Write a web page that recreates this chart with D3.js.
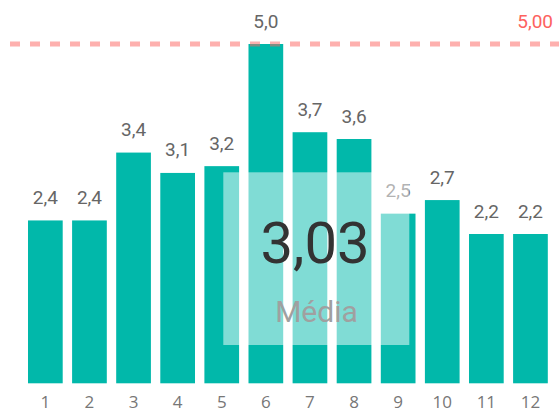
<!DOCTYPE html>
<html><head><meta charset="utf-8">
<script src="https://cdn.jsdelivr.net/npm/d3@7"></script>
<style>html,body{margin:0;padding:0;background:#fff;overflow:hidden}</style>
</head><body>
<svg id="c" width="559" height="413"></svg>
<script>
const categories = ["1","2","3","4","5","6","7","8","9","10","11","12"];
const values = [2.4, 2.4, 3.4, 3.1, 3.2, 5.0, 3.7, 3.6, 2.5, 2.7, 2.2, 2.2];
const target = 5.0;
const cardLabel = "Média";

const fmt1 = d => d3.format(".1f")(d).replace(".", ",");
const fmt2 = d => d3.format(".2f")(d).replace(".", ",");
const mean = d3.mean(values);

const svg = d3.select("#c");
const x = d3.scaleBand().domain(categories).range([23.3, 552.5]).paddingInner(0.213).paddingOuter(0.1065);
const y = d3.scaleLinear().domain([0, 5]).range([383.3, 44]);

svg.append("g").selectAll("rect").data(values).join("rect")
  .attr("x", (d, i) => x(categories[i]))
  .attr("y", d => y(d))
  .attr("width", x.bandwidth())
  .attr("height", d => y(0) - y(d))
  .attr("fill", "#01B8AA");

svg.append("g").selectAll("text").data(values).join("text")
  .attr("x", (d, i) => x(categories[i]) + x.bandwidth() / 2)
  .attr("y", d => y(d) - 16.5)
  .attr("text-anchor", "middle")
  .attr("font-family", "Roboto, sans-serif")
  .attr("font-size", 19)
  .attr("fill", "#666")
  .text(d => fmt1(d));

// x axis labels
const xAxis = d3.axisBottom(x).tickSize(0).tickPadding(0);
const gx = svg.append("g").attr("transform", `translate(0,${y(0)})`).call(xAxis);
gx.select(".domain").remove();
gx.selectAll("text")
  .attr("y", 0).attr("dy", 0)
  .attr("transform", "translate(0,24.5)")
  .attr("font-family", "'Open Sans', sans-serif")
  .attr("font-size", 17)
  .attr("fill", "#777");

// target line
svg.append("line")
  .attr("x1", 10).attr("x2", 559)
  .attr("y1", y(target)).attr("y2", y(target))
  .attr("stroke", "#FD625E").attr("stroke-opacity", 0.5)
  .attr("stroke-width", 5).attr("stroke-dasharray", "10,10");
svg.append("text")
  .attr("x", 553).attr("y", 28)
  .attr("text-anchor", "end")
  .attr("font-family", "Roboto, sans-serif")
  .attr("font-size", 19)
  .attr("fill", "#FD625E")
  .text(fmt2(target));

// card overlay
svg.append("rect")
  .attr("x", 223.3).attr("y", 172.3).attr("width", 186).attr("height", 172.7)
  .attr("fill", "#fff").attr("fill-opacity", 0.5);
svg.append("text")
  .attr("x", 315).attr("y", 263.3)
  .attr("text-anchor", "middle")
  .attr("font-family", "Roboto, sans-serif")
  .attr("font-size", 58)
  .attr("fill", "#333")
  .text(fmt2(mean));
svg.append("text")
  .attr("x", 316.5).attr("y", 321.7)
  .attr("text-anchor", "middle")
  .attr("font-family", "Roboto, sans-serif")
  .attr("font-size", 30)
  .attr("fill", "#a0a0a0")
  .text(cardLabel);
</script>
</body></html>
